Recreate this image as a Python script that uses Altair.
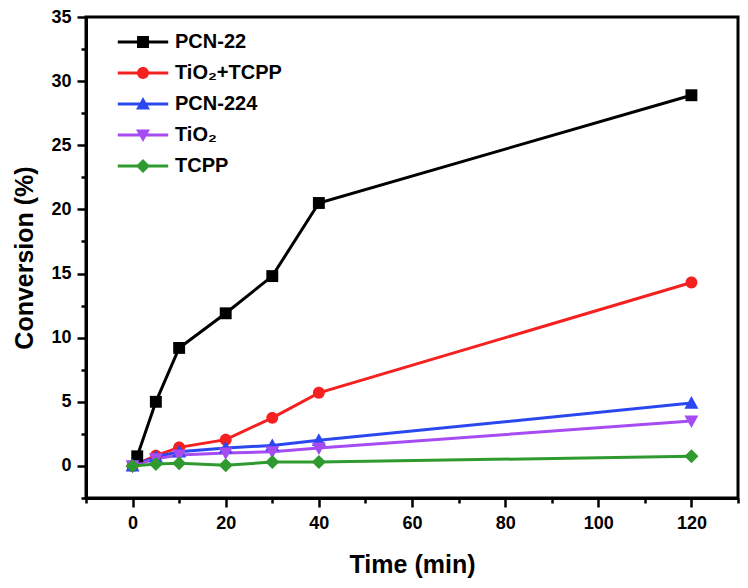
import altair as alt
import pandas as pd

series = ["PCN-22", "TiO₂+TCPP", "PCN-224", "TiO₂", "TCPP"]
colors = ["#000000", "#f52020", "#2b48f0", "#a64cf2", "#2f9a2f"]

t_pcn22 = [1, 5, 10, 20, 30, 40, 120]
y_pcn22 = [0.75, 5.0, 9.2, 11.9, 14.8, 20.5, 28.9]
t_common = [0, 5, 10, 20, 30, 40, 120]
y_tio2_tcpp = [0, 0.8, 1.45, 2.05, 3.75, 5.7, 14.3]
y_pcn224 = [0, 0.7, 1.1, 1.4, 1.6, 2.0, 4.9]
y_tio2 = [0, 0.55, 0.85, 1.0, 1.1, 1.4, 3.5]
y_tcpp = [0, 0.15, 0.2, 0.05, 0.3, 0.3, 0.75]

x_major = [0, 20, 40, 60, 80, 100, 120]
x_minor = [-10, 10, 30, 50, 70, 90, 110, 130]
y_major = [0, 5, 10, 15, 20, 25, 30, 35]
y_minor = [-2.5, 2.5, 7.5, 12.5, 17.5, 22.5, 27.5, 32.5]

marker_paths = [
    "M-0.85,-0.85H0.85V0.85H-0.85Z",
    "M-0.85,0A0.85,0.85 0 1,1 0.85,0A0.85,0.85 0 1,1 -0.85,0Z",
    "M0,-1L1,0.8H-1Z",
    "M0,1L-1,-0.8H1Z",
    "M0,-1L1,0L0,1L-1,0Z",
]
bar = "M-3.6,-0.22H3.6V0.22H-3.6Z"
legend_paths = [bar + p for p in marker_paths]

rows = []
for name, ts, ys in [
    (series[0], t_pcn22, y_pcn22),
    (series[1], t_common, y_tio2_tcpp),
    (series[2], t_common, y_pcn224),
    (series[3], t_common, y_tio2),
    (series[4], t_common, y_tcpp),
]:
    for t, v in zip(ts, ys):
        rows.append({"series": name, "time": t, "conv": v})
df = pd.DataFrame(rows)

FONT = "Liberation Sans"
xscale = alt.Scale(domain=[-10, 130], nice=False, zero=False)
yscale = alt.Scale(domain=[-2.5, 35], nice=False, zero=False)
cscale = alt.Scale(domain=series, range=colors)
sscale = alt.Scale(domain=series, range=marker_paths)
lscale = alt.Scale(domain=series, range=legend_paths)

x_axis = alt.Axis(values=x_major, orient="bottom", title="Time (min)", grid=False,
                  tickSize=9, tickWidth=2.5, domainWidth=3, domainColor="black",
                  tickColor="black", labelFontSize=18, labelFont=FONT,
                  labelFontWeight="bold", labelColor="black", labelPadding=7,
                  titleFontSize=25, titleFont=FONT, titleFontWeight="bold",
                  titleColor="black", titlePadding=20)
y_axis = alt.Axis(values=y_major, orient="left", title="Conversion (%)", grid=False,
                  tickSize=9, tickWidth=2.5, domainWidth=3, domainColor="black",
                  tickColor="black", labelFontSize=18, labelFont=FONT,
                  labelFontWeight="bold", labelColor="black", labelPadding=6,
                  titleFontSize=25, titleFont=FONT, titleFontWeight="bold",
                  titleColor="black", titleX=-49)
x_minor_axis = alt.Axis(values=x_minor, orient="bottom", title=None, labels=False,
                        domain=False, grid=False, tickSize=5, tickWidth=2.5,
                        tickColor="black")
y_minor_axis = alt.Axis(values=y_minor, orient="left", title=None, labels=False,
                        domain=False, grid=False, tickSize=5, tickWidth=2.5,
                        tickColor="black")

minor = alt.Chart(df).mark_point(opacity=0).encode(
    x=alt.X("time:Q", scale=xscale, axis=x_minor_axis),
    y=alt.Y("conv:Q", scale=yscale, axis=y_minor_axis),
)

lines = alt.Chart(df).mark_line(strokeWidth=3).encode(
    x=alt.X("time:Q", scale=xscale, axis=x_axis),
    y=alt.Y("conv:Q", scale=yscale, axis=y_axis),
    color=alt.Color("series:N", scale=cscale, legend=None),
    detail="series:N",
)

points = alt.Chart(df).mark_point(filled=True, opacity=1, size=196).encode(
    x=alt.X("time:Q", scale=xscale, axis=None),
    y=alt.Y("conv:Q", scale=yscale, axis=None),
    color=alt.Color("series:N", scale=cscale, legend=None),
    shape=alt.Shape("series:N", scale=sscale, legend=None),
)

leg = alt.Legend(
    orient="none", legendX=47, legendY=15, title=None, padding=0,
    symbolSize=196, symbolStrokeWidth=0, labelFontSize=20, labelFont=FONT,
    labelFontWeight="bold", labelColor="black", labelOffset=22,
    rowPadding=11, labelLimit=300,
)
legend_layer = alt.Chart(df).transform_filter("false").mark_point(
    filled=True, opacity=1, size=196
).encode(
    color=alt.Color("series:N", scale=cscale, legend=leg),
    shape=alt.Shape("series:N", scale=lscale, legend=leg),
)

chart = alt.layer(minor, lines, points, legend_layer).resolve_axis(
    x="independent", y="independent"
).resolve_scale(
    color="independent", shape="independent"
).properties(
    width=652, height=481,
    autosize=alt.AutoSizeParams(type="none"),
    padding={"left": 78, "top": 9, "right": 2, "bottom": 82},
).configure_view(stroke="black", strokeWidth=3)

chart.save("out.html", embed_options={"renderer": "svg", "actions": False})
